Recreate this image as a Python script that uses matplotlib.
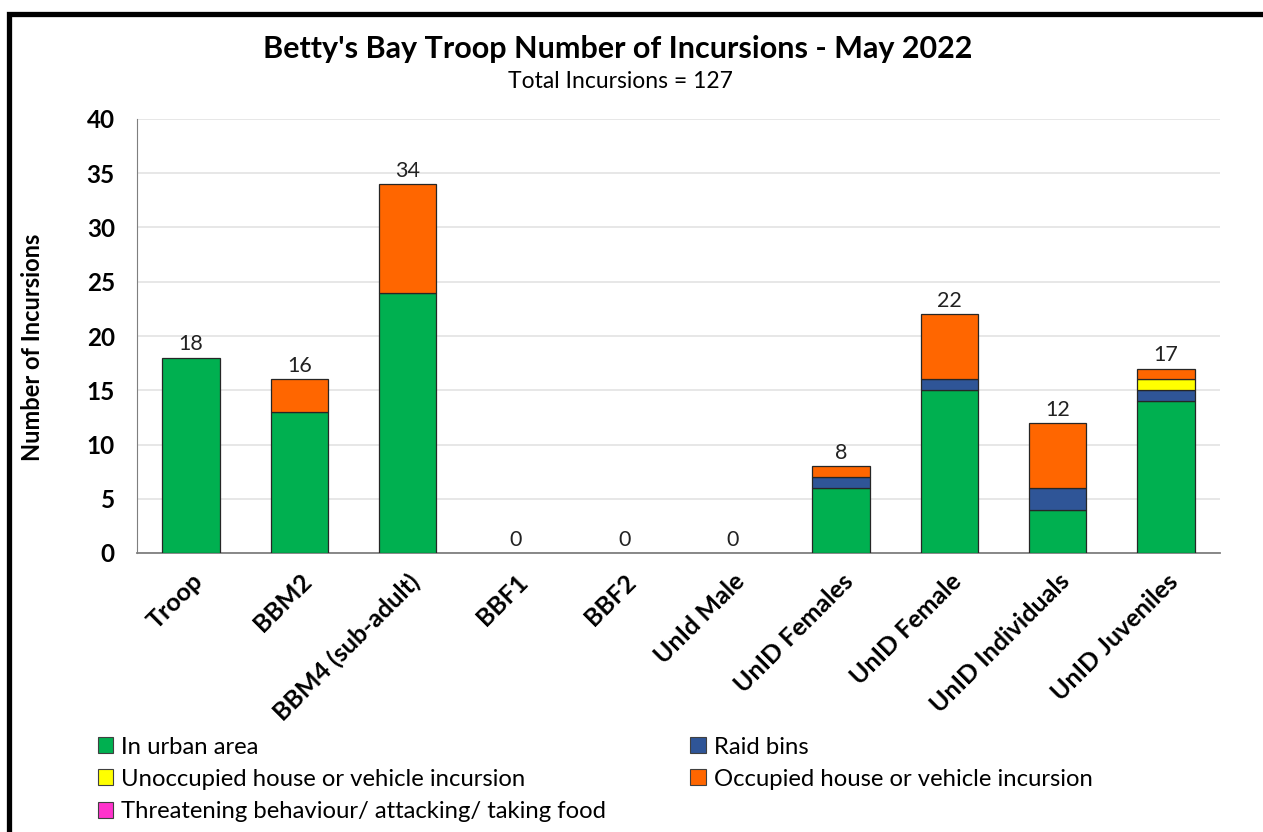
import matplotlib
matplotlib.use("Agg")
import matplotlib.pyplot as plt
from matplotlib.patches import Rectangle, Patch
import numpy as np

plt.rcParams['font.family'] = ['Lato', 'DejaVu Sans']

categories = ["Troop", "BBM2", "BBM4 (sub-adult)", "BBF1", "BBF2", "UnId Male",
              "UnID Females", "UnID Female", "UnID Individuals", "UnID Juveniles"]
urban      = [18, 13, 24, 0, 0, 0, 6, 15, 4, 14]
raid_bins  = [0, 0, 0, 0, 0, 0, 1, 1, 2, 1]
unoccupied = [0, 0, 0, 0, 0, 0, 0, 0, 0, 1]
occupied   = [0, 3, 10, 0, 0, 0, 1, 6, 6, 1]
threatening = [0, 0, 0, 0, 0, 0, 0, 0, 0, 0]

series = [
    ("In urban area", urban, "#00b050"),
    ("Raid bins", raid_bins, "#2f5597"),
    ("Unoccupied house or vehicle incursion", unoccupied, "#ffff00"),
    ("Occupied house or vehicle incursion", occupied, "#ff6600"),
    ("Threatening behaviour/ attacking/ taking food", threatening, "#ff33cc"),
]

W, H = 1263, 832
fig = plt.figure(figsize=(W/100, H/100), dpi=100)
ax = fig.add_axes([137/W, 1-553/H, (1220-137)/W, (553-119)/H])

x = np.arange(len(categories))
bottom = np.zeros(len(categories))
handles = []
for name, vals, col in series:
    v = np.array(vals, dtype=float)
    m = v > 0
    if m.any():
        ax.bar(x[m], v[m], bottom=bottom[m], width=0.53, color=col, edgecolor="#262626",
               linewidth=0.9, zorder=3)
    bottom += v
    handles.append(Patch(facecolor=col, edgecolor="#404040", linewidth=0.8, label=name))

totals = bottom
for xi, t in zip(x, totals):
    ax.text(xi, t + 0.3, f"{int(t)}", ha="center", va="bottom", fontsize=15.5, color="#222222")

ax.set_xlim(-0.5, len(categories) - 0.5)
ax.set_ylim(0, 40)
ax.set_yticks(range(0, 41, 5))
ax.set_yticklabels([str(v) for v in range(0, 41, 5)], fontsize=17.5, fontweight="bold")
ax.yaxis.grid(True, color="#e3e3e3", linewidth=1.2, zorder=0)
ax.set_axisbelow(True)
ax.tick_params(axis="both", length=0)
ax.tick_params(axis="x", pad=12)
ax.tick_params(axis="y", pad=16)
ax.set_xticks(x)
ax.set_xticklabels(categories, rotation=45, ha="right", rotation_mode="anchor",
                   fontsize=18, fontweight="bold")
for s in ["top", "right"]:
    ax.spines[s].set_visible(False)
ax.spines["left"].set_color("#7f7f7f")
ax.spines["bottom"].set_color("#7f7f7f")
ax.spines["bottom"].set_linewidth(1.3)
ax.set_ylabel("Number of Incursions", fontsize=17, fontweight="bold")
ax.yaxis.set_label_coords((44 - 137) / 1083, (553 - 347) / 434)

fig.text(618/W, 1-49/H, "Betty's Bay Troop Number of Incursions - May 2022",
         ha="center", va="center", fontsize=22, fontweight="bold")
fig.text(620/W, 1-82/H, "Total Incursions = 127", ha="center", va="center", fontsize=16.5)

order = [0, 2, 4, 1, 3]
leg = fig.legend([handles[i] for i in order], [series[i][0] for i in order],
                 ncol=2, loc="upper left", bbox_to_anchor=(88/W, 1-727/H),
                 frameon=False, fontsize=17.2, handlelength=0.65, handleheight=0.65,
                 handletextpad=0.35, labelspacing=0.47, columnspacing=3.5,
                 borderaxespad=0)

fig.add_artist(Rectangle((9/W, -0.1), 1.2, 1 - 13.5/H + 0.1, transform=fig.transFigure,
                         fill=False, edgecolor="black", linewidth=3.8))

fig.savefig("out.png", dpi=100)
